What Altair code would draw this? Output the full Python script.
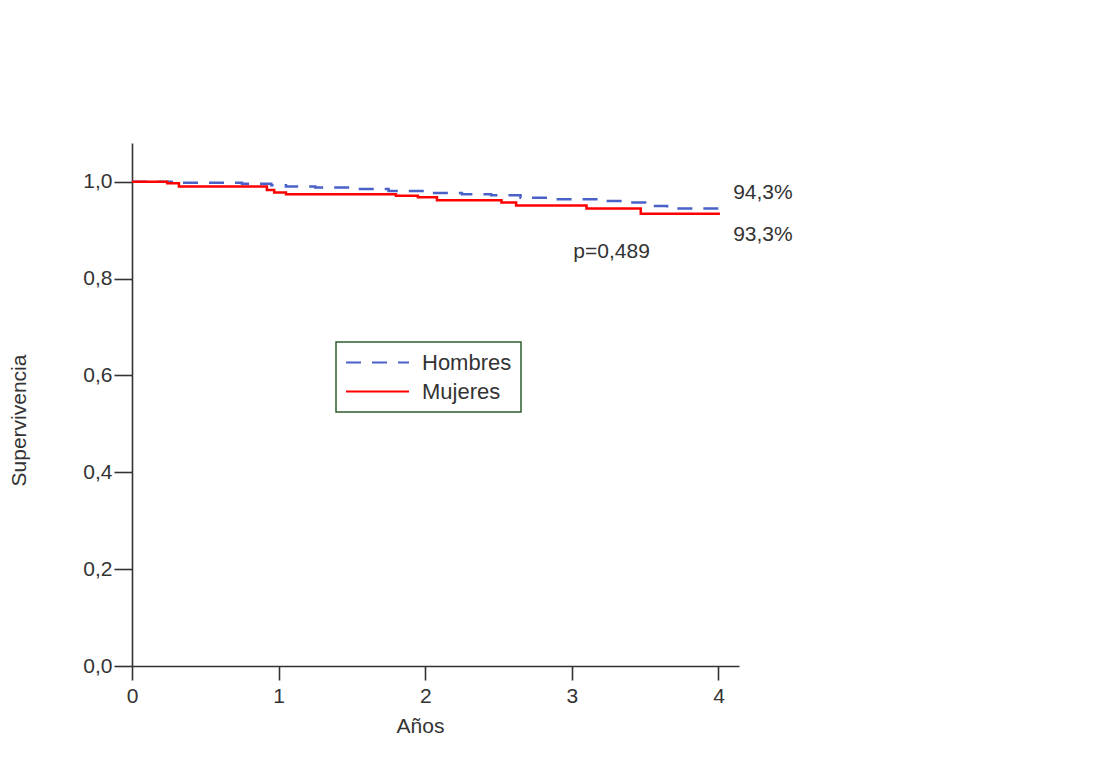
import altair as alt
import pandas as pd

# Kaplan-Meier step data (years, survival)
hombres_t = [0.0, 0.28, 0.75, 0.95, 1.05, 1.25, 1.5, 1.75, 2.05, 2.25, 2.45, 2.65, 2.85, 3.2, 3.35, 3.5, 3.65, 4.0]
hombres_s = [1.0, 0.998, 0.996, 0.993, 0.990, 0.988, 0.985, 0.981, 0.977, 0.974, 0.972, 0.967, 0.964, 0.960, 0.957, 0.950, 0.945, 0.943]

mujeres_t = [0.0, 0.24, 0.32, 0.92, 0.97, 1.05, 1.8, 1.95, 2.08, 2.52, 2.62, 3.1, 3.47, 4.01]
mujeres_s = [1.0, 0.997, 0.990, 0.983, 0.978, 0.974, 0.971, 0.968, 0.962, 0.957, 0.951, 0.945, 0.934, 0.934]

series_names = ["Hombres", "Mujeres"]
series_colors = ["#4a62c8", "#ff0000"]

# annotations
ann_labels = ["94,3%", "93,3%", "p=0,489"]
ann_x = [4.10, 4.10, 3.01]
ann_y = [0.977, 0.891, 0.854]

x_ticks = [0, 1, 2, 3, 4]
y_ticks = [0.0, 0.2, 0.4, 0.6, 0.8, 1.0]

rows = []
for t, s in zip(hombres_t, hombres_s):
    rows.append({"serie": "Hombres", "t": t, "s": s})
for t, s in zip(mujeres_t, mujeres_s):
    rows.append({"serie": "Mujeres", "t": t, "s": s})
df = pd.DataFrame(rows)

ann = pd.DataFrame({"label": ann_labels, "x": ann_x, "y": ann_y})

FONT = "Liberation Sans"
TXT = "#333333"

xscale = alt.Scale(domain=[0, 4.14], nice=False, zero=False)
yscale = alt.Scale(domain=[0, 1.08], nice=False)

lines = alt.Chart(df).mark_line(interpolate="step-after", strokeWidth=2.5).encode(
    x=alt.X("t:Q", scale=xscale,
            axis=alt.Axis(title="Años", values=x_ticks, format="d", labelFlush=False,
                          titleX=288, titleY=60, titleBaseline="middle", titleAlign="center",
                          tickSize=14, labelPadding=5)),
    y=alt.Y("s:Q", scale=yscale,
            axis=alt.Axis(title="Supervivencia", values=y_ticks,
                          labelExpr="replace(format(datum.value, '.1f'), '.', ',')",
                          titleX=-113, titleY=277, titleAngle=-90,
                          titleBaseline="middle", titleAlign="center",
                          tickSize=18, labelPadding=2)),
    color=alt.Color("serie:N", scale=alt.Scale(domain=series_names, range=series_colors),
                    legend=alt.Legend(title=None)),
    strokeDash=alt.StrokeDash("serie:N",
                              scale=alt.Scale(domain=series_names, range=[[15, 11], [1, 0]]),
                              legend=alt.Legend(title=None)),
)

texts = alt.Chart(ann).mark_text(align="left", baseline="middle", font=FONT,
                                 fontSize=21, color=TXT).encode(
    x=alt.X("x:Q", scale=xscale),
    y=alt.Y("y:Q", scale=yscale),
    text="label:N",
)

chart = alt.layer(lines, texts).properties(
    width=607, height=523,
    padding={"left": 124, "top": 135, "right": 60, "bottom": 95},
    autosize=alt.AutoSizeParams(type="none"),
).configure_view(stroke=None).configure_axis(
    grid=False, domainColor="#333333", domainWidth=1.6, tickColor="#333333", tickWidth=1.6,
    labelFont=FONT, labelFontSize=21, labelColor=TXT,
    titleFont=FONT, titleFontSize=21, titleColor=TXT, titleFontWeight="normal",
).configure_legend(
    orient="none", legendX=204, legendY=199,
    strokeColor="#2e5e2e", strokeWidth=1.5, padding=9, fillColor="white",
    symbolType="M-1,0H5", symbolSize=441, symbolStrokeWidth=2,
    labelFont=FONT, labelFontSize=22, labelColor=TXT, labelOffset=54, rowPadding=6,
)

chart.save("out.html", embed_options={"renderer": "svg", "actions": False})
